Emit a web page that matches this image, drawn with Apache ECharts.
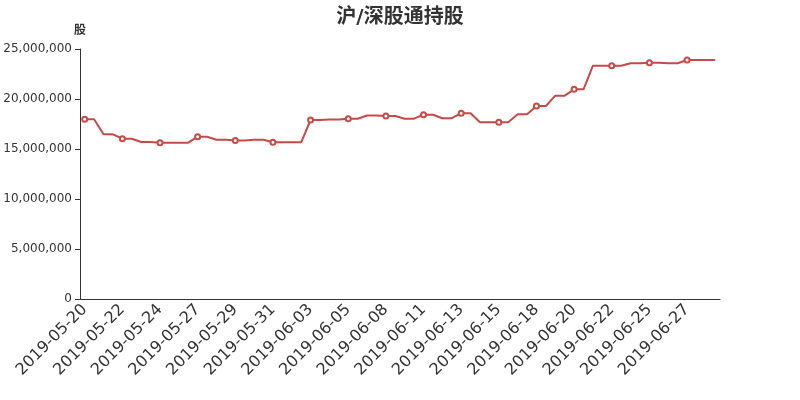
<!DOCTYPE html>
<html>
<head>
<meta charset="utf-8">
<script src="https://cdn.jsdelivr.net/npm/echarts@6/dist/echarts.min.js"></script>
<style>html,body{margin:0;padding:0;background:#fff}#main{width:800px;height:400px}</style>
</head>
<body>
<div id="main"></div>
<script>
// Each trading record appears twice in the source data (two entries per date)
const categories = [
  '2019-05-20','2019-05-20','2019-05-21','2019-05-21','2019-05-22','2019-05-22','2019-05-23','2019-05-23',
  '2019-05-24','2019-05-24','2019-05-26','2019-05-26','2019-05-27','2019-05-27','2019-05-28','2019-05-28',
  '2019-05-29','2019-05-29','2019-05-30','2019-05-30','2019-05-31','2019-05-31','2019-06-02','2019-06-02',
  '2019-06-03','2019-06-03','2019-06-04','2019-06-04','2019-06-05','2019-06-05','2019-06-06','2019-06-06',
  '2019-06-08','2019-06-08','2019-06-10','2019-06-10','2019-06-11','2019-06-11','2019-06-12','2019-06-12',
  '2019-06-13','2019-06-13','2019-06-14','2019-06-14','2019-06-15','2019-06-15','2019-06-17','2019-06-17',
  '2019-06-18','2019-06-18','2019-06-19','2019-06-19','2019-06-20','2019-06-20','2019-06-21','2019-06-21',
  '2019-06-22','2019-06-22','2019-06-24','2019-06-24','2019-06-25','2019-06-25','2019-06-26','2019-06-26',
  '2019-06-27','2019-06-27','2019-06-28','2019-06-28'
];
const holdings = [
  17970000,17970000,16470000,16470000,16030000,16030000,15700000,15700000,
  15630000,15630000,15630000,15630000,16230000,16230000,15930000,15930000,
  15850000,15850000,15930000,15930000,15670000,15670000,15670000,15670000,
  17900000,17900000,17950000,17950000,18020000,18020000,18350000,18350000,
  18300000,18300000,18030000,18030000,18430000,18430000,18080000,18080000,
  18580000,18580000,17680000,17680000,17680000,17680000,18470000,18470000,
  19300000,19300000,20330000,20330000,20970000,20970000,23330000,23330000,
  23330000,23330000,23570000,23570000,23630000,23630000,23570000,23570000,
  23900000,23900000,23900000,23900000
];
const yTicks = { min: 0, max: 25000000, interval: 5000000 };

const FONT = "'DejaVu Sans', 'Noto Sans CJK SC', sans-serif";
const chart = echarts.init(document.getElementById('main'), null, { renderer: 'canvas' });
chart.setOption({
  animation: false,
  textStyle: { fontFamily: FONT },
  title: {
    text: '沪/深股通持股', left: 'center', top: 3,
    textStyle: { fontSize: 20, fontWeight: 'bold', color: '#333', fontFamily: FONT }
  },
  grid: { left: 80, right: 80, top: 49, bottom: 101, containLabel: false },
  xAxis: {
    type: 'category', data: categories, boundaryGap: true,
    axisLine: { lineStyle: { color: '#333' } },
    axisTick: { interval: 3, lineStyle: { color: '#333' } },
    axisLabel: { interval: 3, rotate: 45, fontSize: 16, color: '#333', fontFamily: FONT }
  },
  yAxis: {
    type: 'value', name: '股', nameGap: 12, min: yTicks.min, max: yTicks.max, interval: yTicks.interval,
    nameTextStyle: { fontSize: 12, fontWeight: 'bold', color: '#333', fontFamily: FONT },
    axisLine: { show: true, lineStyle: { color: '#333' } },
    axisTick: { show: true, lineStyle: { color: '#333' } },
    splitLine: { show: false },
    axisLabel: { fontSize: 12, color: '#333', fontFamily: FONT, padding: [4, 0, 0, 0],
      formatter: v => v.toLocaleString('en-US') }
  },
  series: [{
    type: 'line', data: holdings,
    symbol: 'emptyCircle', symbolSize: 5, showSymbol: true, showAllSymbol: false,
    itemStyle: { color: '#c84a48', borderWidth: 1 },
    lineStyle: { width: 2, color: '#c84a48' }
  }]
});
</script>
</body>
</html>
